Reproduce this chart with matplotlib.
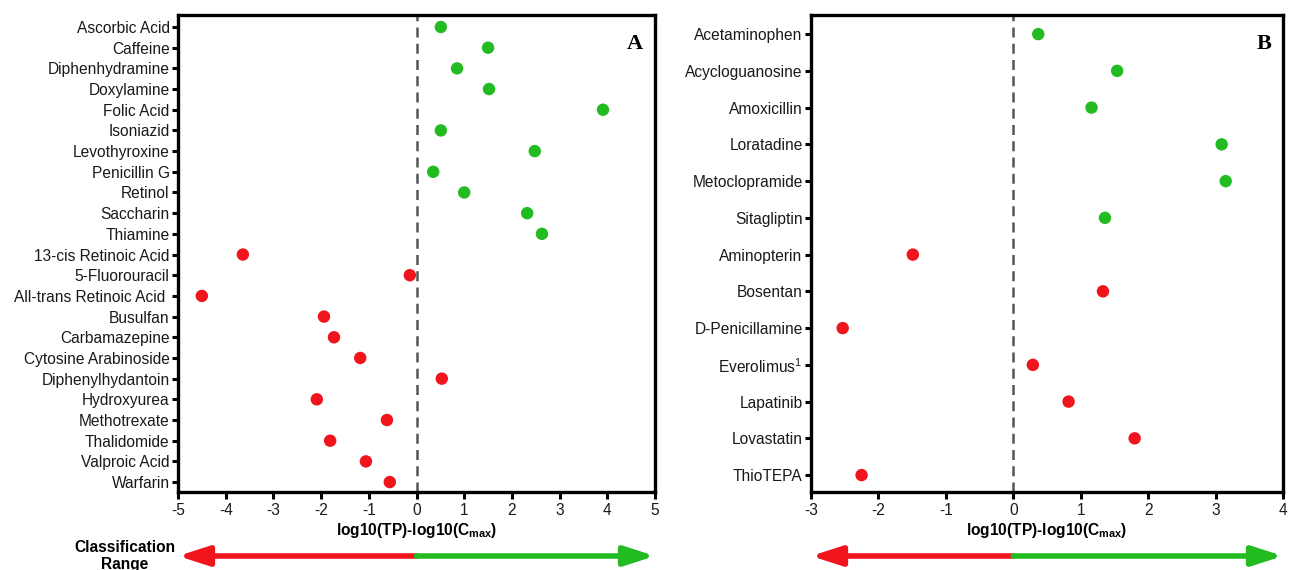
import numpy as np
import matplotlib
matplotlib.use('Agg')
import matplotlib.pyplot as plt
import matplotlib.transforms as mtransforms

plt.rcParams['font.family'] = 'Liberation Sans'
plt.rcParams['mathtext.fontset'] = 'custom'
plt.rcParams['mathtext.rm'] = 'Liberation Sans'
plt.rcParams['mathtext.bf'] = 'Liberation Sans:bold'

RED = '#f0141c'
GREEN = '#22bb22'

# panel A
drugs_a = ['Ascorbic Acid', 'Caffeine', 'Diphenhydramine', 'Doxylamine', 'Folic Acid',
           'Isoniazid', 'Levothyroxine', 'Penicillin G', 'Retinol', 'Saccharin', 'Thiamine',
           '13-cis Retinoic Acid', '5-Fluorouracil', 'All-trans Retinoic Acid ', 'Busulfan',
           'Carbamazepine', 'Cytosine Arabinoside', 'Diphenylhydantoin', 'Hydroxyurea',
           'Methotrexate', 'Thalidomide', 'Valproic Acid', 'Warfarin']
values_a = [0.51, 1.50, 0.85, 1.52, 3.91, 0.51, 2.48, 0.35, 1.00, 2.32, 2.63,
            -3.64, -0.14, -4.50, -1.94, -1.73, -1.18, 0.53, -2.09, -0.62, -1.81, -1.06, -0.56]
safe_a = [True] * 11 + [False] * 12

# panel B
drugs_b = ['Acetaminophen', 'Acycloguanosine', 'Amoxicillin', 'Loratadine', 'Metoclopramide',
           'Sitagliptin', 'Aminopterin', 'Bosentan', 'D-Penicillamine', 'Everolimus$^1$',
           'Lapatinib', 'Lovastatin', 'ThioTEPA']
values_b = [0.37, 1.54, 1.16, 3.09, 3.15, 1.36, -1.49, 1.33, -2.53, 0.29, 0.82, 1.80, -2.25]
safe_b = [True] * 6 + [False] * 7

xlabel = r'log10(TP)-log10(C$_{\mathbf{max}}$)'
FS = 11.2

fig = plt.figure(figsize=(12.89, 5.70), dpi=100)
ax_a = fig.add_axes([178 / 1289, 1 - 492 / 570, 477 / 1289, 477 / 570])
ax_b = fig.add_axes([811 / 1289, 1 - 492 / 570, 472 / 1289, 477 / 570])


def draw_panel(ax, drugs, values, safe, xlim, ylim, letter):
    y = np.arange(len(drugs))
    colors = [GREEN if s else RED for s in safe]
    ax.scatter(values, y, s=80, c=colors, zorder=3, linewidths=0)
    ax.axvline(0, color='#555555', lw=1.8, ls=(0, (4, 2.5)), zorder=1)
    ax.set_xlim(*xlim)
    ax.set_ylim(*ylim)
    ax.set_yticks(y)
    ax.set_yticklabels(drugs, fontsize=FS, color='#1a1a1a')
    ax.set_xticks(np.arange(xlim[0], xlim[1] + 1))
    ax.set_xticklabels([str(v) for v in range(xlim[0], xlim[1] + 1)], fontsize=FS,
                       color='#1a1a1a')
    ax.tick_params(axis='both', direction='out', width=2.2, length=4, pad=2)
    ax.tick_params(axis='x', length=5, pad=3)
    for sp in ax.spines.values():
        sp.set_linewidth(2.4)
    ax.set_xlabel(xlabel, fontsize=FS, fontweight='bold', labelpad=2)
    ax.text(0.975, 0.96, letter, transform=ax.transAxes, ha='right', va='top',
            fontsize=16, fontweight='bold', family='Liberation Serif')

    # classification range arrow below the axis
    trans = mtransforms.blended_transform_factory(ax.transData, fig.transFigure)
    ya = 1 - 556 / 570
    style = '-|>,head_length=1.4,head_width=0.45'
    ax.annotate('', xy=(xlim[0], ya), xytext=(0, ya), xycoords=trans, textcoords=trans,
                arrowprops=dict(arrowstyle=style, lw=4, color=RED,
                                shrinkA=0, shrinkB=0, mutation_scale=13),
                annotation_clip=False)
    ax.annotate('', xy=(xlim[1], ya), xytext=(0, ya), xycoords=trans, textcoords=trans,
                arrowprops=dict(arrowstyle=style, lw=4, color=GREEN,
                                shrinkA=0, shrinkB=0, mutation_scale=13),
                annotation_clip=False)


draw_panel(ax_a, drugs_a, values_a, safe_a, (-5, 5), (len(drugs_a) - 0.52, -0.58), 'A')
draw_panel(ax_b, drugs_b, values_b, safe_b, (-3, 4), (len(drugs_b) - 0.54, -0.52), 'B')

fig.text(125 / 1289, 1 - 556 / 570, 'Classification\nRange', ha='center', va='center',
         fontsize=FS, fontweight='bold', linespacing=1.15)

fig.savefig('out.png', dpi=100)
